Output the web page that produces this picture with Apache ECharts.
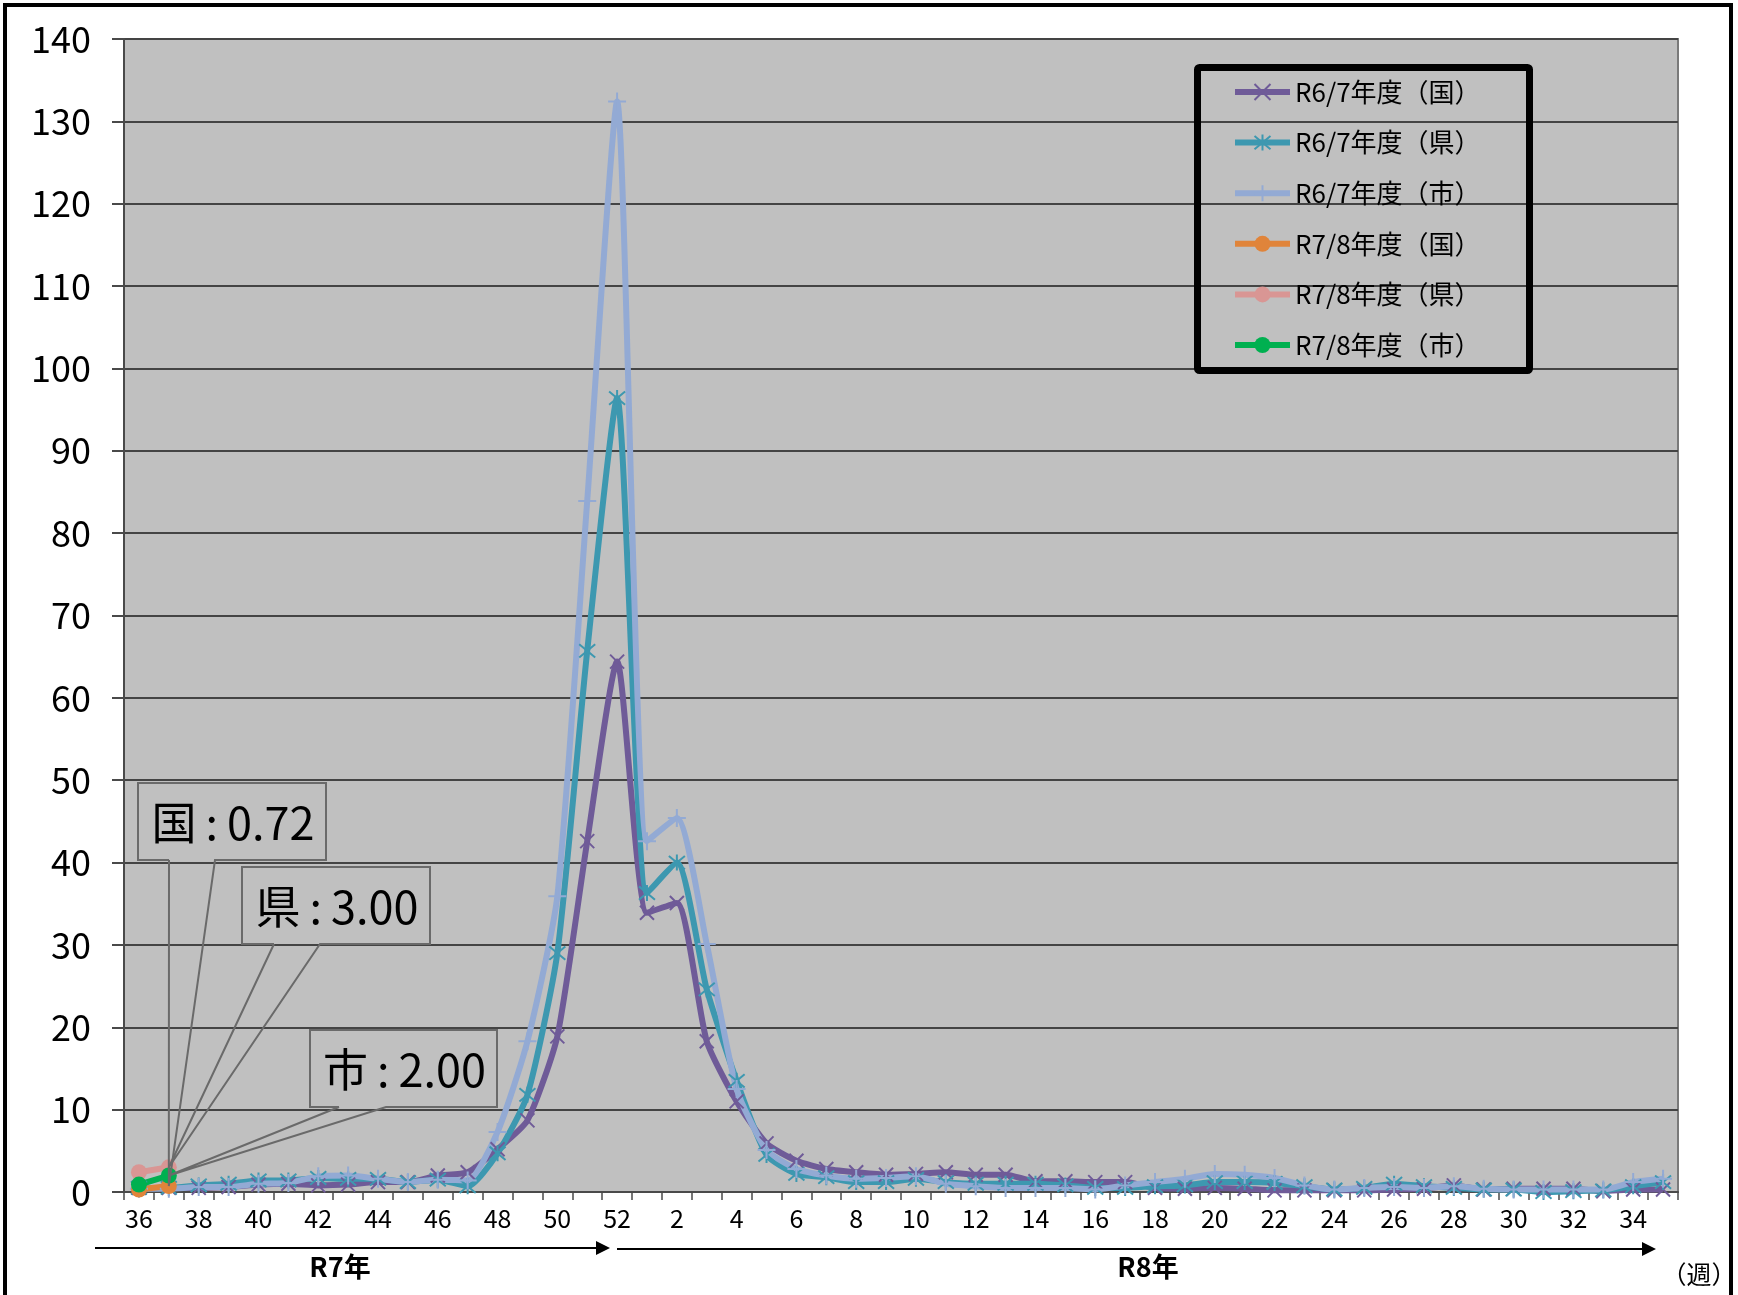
<!DOCTYPE html>
<html><head><meta charset="utf-8">
<script src="https://cdn.jsdelivr.net/npm/echarts@6/dist/echarts.min.js"></script>
<style>html,body{margin:0;padding:0;background:#fff}#c{width:1738px;height:1295px}</style>
</head><body><div id="c"></div>
<script>
// ---- data ----
const weeks = ['36','37','38','39','40','41','42','43','44','45','46','47','48','49','50','51','52',
  '1','2','3','4','5','6','7','8','9','10','11','12','13','14','15','16','17','18','19','20',
  '21','22','23','24','25','26','27','28','29','30','31','32','33','34','35'];
const seriesNames = ['R6/7年度（国）','R6/7年度（県）','R6/7年度（市）','R7/8年度（国）','R7/8年度（県）','R7/8年度（市）'];
const r67Kuni = [0.5,0.5,0.5,0.6,0.9,1.0,0.8,0.9,1.2,1.2,2.0,2.4,5.2,8.7,18.9,42.6,64.4,
  33.9,35.1,18.3,11.0,5.9,3.8,2.8,2.4,2.1,2.2,2.4,2.1,2.1,1.3,1.3,1.2,1.2,0.5,0.4,0.5,
  0.4,0.2,0.2,0.2,0.2,0.3,0.4,0.8,0.3,0.4,0.4,0.4,0.1,0.3,0.3];
const r67Ken = [0.5,0.5,0.8,1.0,1.4,1.4,1.7,1.6,1.6,1.2,1.5,0.7,4.7,11.8,29.0,65.7,96.4,
  36.3,40.0,24.6,13.5,4.5,2.2,1.8,1.2,1.2,1.6,1.2,1.0,1.0,1.0,0.8,0.5,0.5,0.7,0.8,1.2,
  1.2,1.1,0.7,0.3,0.5,1.0,0.7,0.5,0.3,0.3,0.0,0.1,0.2,0.7,1.2];
const r67Shi = [0.4,0.4,0.6,0.6,1.0,1.1,1.9,2.0,1.6,1.2,1.5,1.4,7.3,18.3,35.9,83.9,132.4,
  42.6,45.4,30.1,12.5,5.1,2.8,2.0,1.6,1.7,1.9,1.0,0.7,0.5,0.5,0.5,0.3,0.8,1.2,1.6,2.2,
  2.1,1.7,0.8,0.3,0.5,0.6,0.5,0.7,0.4,0.3,0.3,0.3,0.3,1.2,1.6];
const r78Kuni = [0.3,0.72];
const r78Ken = [2.4,3.00];
const r78Shi = [0.9,2.00];
const yTicks = {min:0, max:140, interval:10};
const calloutNames = ['国','県','市'];

// ---- styles ----
const FONT = '"Noto Sans CJK JP","Noto Sans",sans-serif';
const colors = ['#6f5b98','#3d98b0','#93aad4','#e0843a','#d99694','#00b050'];
const SYM_X = 'path://M0,0L10,10M10,0L0,10';
const SYM_AST = 'path://M0,0L10,10M10,0L0,10M5,-1L5,11';
const SYM_PLUS = 'path://M0,5L10,5M5,0L5,10';

function lineSeries(idx, data, symbol, size, stroke){
  return {
    name: seriesNames[idx], type:'line', data: data, color: colors[idx],
    symbol: symbol, symbolSize: size, showAllSymbol: true, smooth: 0.2,
    lineStyle:{width:6, color: colors[idx]},
    itemStyle: stroke ? {color: colors[idx], borderColor: colors[idx], borderWidth: 2}
                      : {color: colors[idx], borderWidth: 0},
    emphasis:{disabled:true}, z: 2
  };
}

const chart = echarts.init(document.getElementById('c'), null, {renderer:'canvas'});
const option = {
  animation:false,
  backgroundColor:'#ffffff',
  textStyle:{fontFamily:FONT},
  grid:{left:124, right:60, top:39, bottom:103, show:true, backgroundColor:'#c0c0c0', borderColor:'#7a7a7a', borderWidth:2},
  legend:{
    orient:'vertical', left:1232, top:78, padding:0,
    itemWidth:55, itemHeight:20, itemGap:22.6,
    lineStyle:{width:6},
    textStyle:{fontSize:26, lineHeight:28, color:'#000', fontFamily:FONT},
    data: seriesNames
  },
  xAxis:{
    type:'category', data: weeks, boundaryGap:true,
    axisLine:{show:true, lineStyle:{color:'#4a4a4a', width:2}},
    axisTick:{show:true, interval:0, length:8, lineStyle:{color:'#4a4a4a', width:1.5}},
    axisLabel:{interval:1, fontSize:25, color:'#000', margin:14, fontFamily:FONT},
    splitLine:{show:false}
  },
  yAxis:{
    type:'value', min:yTicks.min, max:yTicks.max, interval:yTicks.interval,
    axisLine:{show:true, lineStyle:{color:'#4a4a4a', width:2}},
    axisTick:{show:true, length:12, lineStyle:{color:'#4a4a4a', width:2}},
    axisLabel:{fontSize:36, color:'#000', margin:33, fontFamily:FONT},
    splitLine:{show:true, lineStyle:{color:'#444', width:2}}
  },
  series:[
    lineSeries(0, r67Kuni, SYM_X, 14, true),
    lineSeries(1, r67Ken, SYM_AST, 16, true),
    lineSeries(2, r67Shi, SYM_PLUS, 18, true),
    lineSeries(3, r78Kuni, 'circle', 16, false),
    lineSeries(4, r78Ken, 'circle', 16, false),
    lineSeries(5, r78Shi, 'circle', 16, false)
  ]
};
chart.setOption(option);

// ---- annotations ----
const r78 = [r78Kuni, r78Ken, r78Shi];
const boxes = [
  {x:138, y:783, w:188, h:77, a:169, b:215},
  {x:242, y:867, w:188, h:77, a:274, b:320},
  {x:310, y:1030, w:187, h:77, a:339, b:386}
];
const graphics = [];
graphics.push({type:'rect', silent:true, z:100, shape:{x:5,y:5,width:1726,height:1310}, style:{fill:'none', stroke:'#000', lineWidth:4}});
graphics.push({type:'rect', silent:true, z:100, shape:{x:1197.5,y:67.5,width:332,height:303,r:2}, style:{fill:'none', stroke:'#000', lineWidth:7}});
// arrows
graphics.push({type:'line', silent:true, shape:{x1:95,y1:1248,x2:598,y2:1248}, style:{stroke:'#000', lineWidth:2}});
graphics.push({type:'polygon', silent:true, shape:{points:[[596,1241],[610,1248],[596,1255]]}, style:{fill:'#000'}});
graphics.push({type:'line', silent:true, shape:{x1:617,y1:1249,x2:1644,y2:1249}, style:{stroke:'#000', lineWidth:2}});
graphics.push({type:'polygon', silent:true, shape:{points:[[1642,1242],[1656,1249],[1642,1256]]}, style:{fill:'#000'}});
graphics.push({type:'text', silent:true, style:{x:340, y:1267, text:'R7年', fill:'#000', font:'bold 27px ' + FONT, align:'center', verticalAlign:'middle'}});
graphics.push({type:'text', silent:true, style:{x:1148, y:1267, text:'R8年', fill:'#000', font:'bold 27px ' + FONT, align:'center', verticalAlign:'middle'}});
graphics.push({type:'text', silent:true, style:{x:1699, y:1274, text:'（週）', fill:'#000', font:'25px ' + FONT, align:'center', verticalAlign:'middle'}});

boxes.forEach(function(bx, k){
  const vals = r78[k];
  const lastIdx = vals.length - 1;
  const p = chart.convertToPixel({xAxisIndex:0, yAxisIndex:0}, [lastIdx, vals[lastIdx]]);
  const bottom = bx.y + bx.h;
  graphics.push({type:'rect', silent:true, z:50, shape:{x:bx.x, y:bx.y, width:bx.w, height:bx.h}, style:{fill:'#c0c0c0', stroke:null}});
  graphics.push({type:'polyline', silent:true, z:51, shape:{points:[
    [bx.a, bottom],[bx.x, bottom],[bx.x, bx.y],[bx.x+bx.w, bx.y],[bx.x+bx.w, bottom],[bx.b, bottom],[p[0], p[1]],[bx.a, bottom]
  ]}, style:{fill:'none', stroke:'#6a6a6a', lineWidth:2}});
  graphics.push({type:'text', silent:true, z:52, style:{x:bx.x + bx.w/2 + 1, y:bx.y + bx.h/2 + 1,
    text: calloutNames[k] + '\u2009:\u2009' + vals[lastIdx].toFixed(2), fill:'#000', font:'45px ' + FONT, align:'center', verticalAlign:'middle'}});
});
chart.setOption({graphic: graphics});
</script>
</body></html>
